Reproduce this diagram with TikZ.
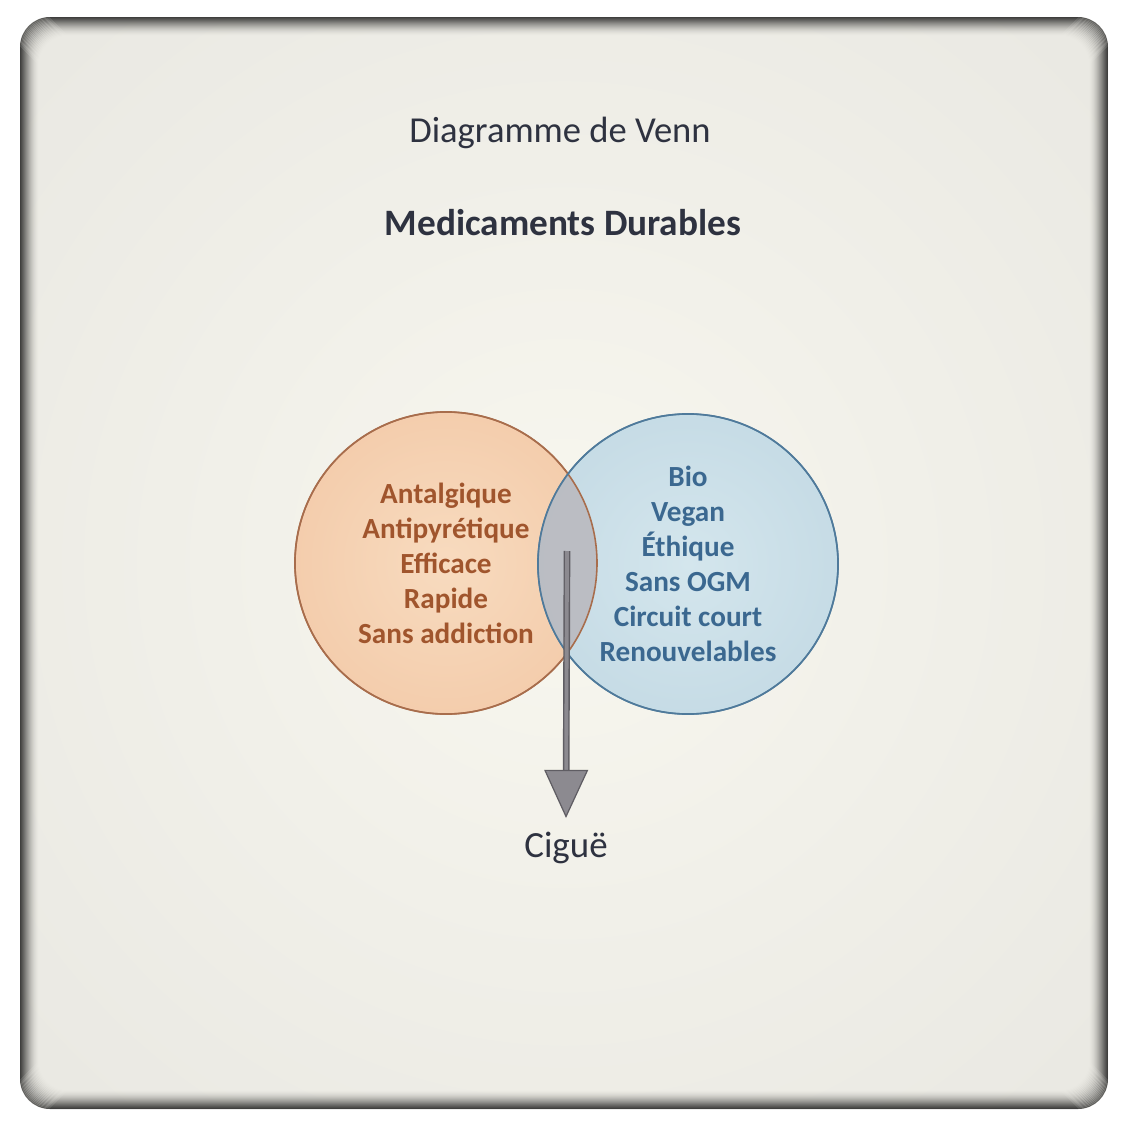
\documentclass[tikz,border=0pt]{standalone}
\usepackage{fontspec}
\setmainfont{Carlito}
\usetikzlibrary{arrows.meta}

\definecolor{bgin}{HTML}{F8F7EF}
\definecolor{bgmid}{HTML}{F1F0E9}
\definecolor{bgout}{HTML}{E3E2DD}
\definecolor{titletext}{HTML}{2E3240}
\definecolor{orin}{HTML}{F8DBBF}
\definecolor{orout}{HTML}{EFBF9A}
\definecolor{orline}{HTML}{A86D4C}
\definecolor{ortext}{HTML}{A0552D}
\definecolor{bluein}{HTML}{D4E6ED}
\definecolor{blueout}{HTML}{B8D1DE}
\definecolor{blueline}{HTML}{4F7A9B}
\definecolor{bluetext}{HTML}{3B6890}
\definecolor{overlap}{HTML}{B9B8BD}
\definecolor{arrowline}{HTML}{5F5D63}
\definecolor{arrowfill}{HTML}{8C8A90}

\pgfdeclareradialshading{paper}{\pgfpoint{0bp}{0bp}}{color(0bp)=(bgin); color(16bp)=(bgmid); color(50bp)=(bgout); color(72bp)=(bgout)}
\pgfdeclareradialshading{orangeset}{\pgfpoint{0bp}{0bp}}{color(0bp)=(orin); color(50bp)=(orout)}
\pgfdeclareradialshading{blueset}{\pgfpoint{0bp}{0bp}}{color(0bp)=(bluein); color(50bp)=(blueout)}

\tikzset{
  setlabel/.style={font=\fontsize{8.3}{9.95}\selectfont\bfseries, align=center},
  leftset/.style={circle, shade, shading=orangeset, draw=orline, line width=0.45pt,
    minimum size=3.02cm, inner sep=0pt, setlabel, text=ortext},
  rightset/.style={circle, shade, shading=blueset, draw=blueline, line width=0.45pt,
    minimum size=3.0cm, inner sep=0pt, setlabel, text=bluetext},
  poison/.style={draw=arrowline, double=arrowfill, double distance=1.1pt, line width=0.4pt,
    -{Triangle[width=12.5pt, length=13.7pt, line width=0.35pt, fill=arrowfill]}}
}

\begin{document}
\begin{tikzpicture}[x=0.01cm, y=-0.01cm]
    \useasboundingbox (0,0) rectangle (1127,1127);
    % frame with inner shadow
    \shade[shading=paper, rounded corners=8.5pt] (20,17) rectangle (1108,1109);
    \begin{scope}
        \clip[rounded corners=8.5pt] (20,17) rectangle (1108,1109);
        \foreach \k in {0,...,19}
            \draw[black, draw opacity={0.5*(1-\k/20)*(1-\k/20)}, line width=0.45pt, rounded corners=8.5pt]
                ({20+\k},{17+\k}) rectangle ({1108-\k},{1109-\k});
    \end{scope}

    \node (title) at (560,133) [font=\fontsize{10.4}{12}\selectfont, text=titletext] {Diagramme de Venn};
    \node (subtitle) at (563,223) [font=\fontsize{10.6}{12}\selectfont\bfseries, text=titletext] {Medicaments Durables};

    \node[leftset] (effets) at (446,563) {Antalgique\\Antipyrétique\\Efficace\\Rapide\\Sans addiction};
    \node[rightset] (valeurs) at (688,564) {Bio\\Vegan\\Éthique\\Sans OGM\\Circuit court\\Renouvelables};

    % intersection
    \begin{scope}
        \clip (effets.center) circle[radius=151];
        \fill[overlap, fill opacity=0.85] (valeurs.center) circle[radius=150];
    \end{scope}
    \draw[orline, line width=0.45pt] (effets.center) circle[radius=151];
    \draw[blueline, line width=0.45pt] (valeurs.center) circle[radius=150];

    \coordinate (source) at (567,551);
    \node (cigue) at (566,818) [anchor=north, inner sep=3.8pt, font=\fontsize{10.5}{12}\selectfont, text=titletext] {Ciguë};
    \draw[poison] (source) -- (cigue.north);
\end{tikzpicture}
\end{document}
